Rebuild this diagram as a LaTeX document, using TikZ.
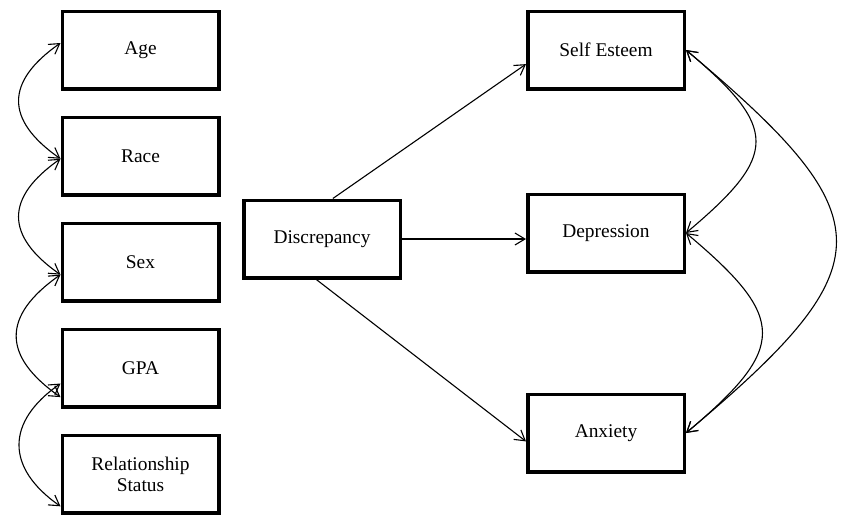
\documentclass[tikz,border=0pt]{standalone}
\usepackage{fontspec}
\setmainfont{Liberation Serif}
\usetikzlibrary{positioning,arrows.meta}

\tikzset{
  var/.style={draw, line width=1.75pt, minimum width=78.25pt, minimum height=38.75pt,
    align=center, inner sep=2pt, font=\fontsize{9.7}{10.5}\selectfont},
  reg/.style={-{Straight Barb[length=5pt,width=6pt]}, line width=0.55pt},
  cov/.style={{Straight Barb[length=5pt,width=6pt]}-{Straight Barb[length=5pt,width=6pt]}, line width=0.55pt}
}

\begin{document}
\begin{tikzpicture}[x=0.5pt, y=0.5pt, node distance=12.5pt]
\useasboundingbox (0,0) rectangle (843,516);

%Declare nodes.
\node[var] (age) at (140.5,466) {Age};
\node[var, below=of age] (race) {Race};
\node[var, below=of race] (sex) {Sex};
\node[var, below=of sex] (gpa) {GPA};
\node[var, below=of gpa] (rel) {Relationship\\Status};
\node[var] (disc) at (322,277) {Discrepancy};
\node[var] (self) at (606,466) {Self Esteem};
\node[var] (dep) at (606,283) {Depression};
\node[var] (anx) at (606,83) {Anxiety};

%Setup edges.
\draw[reg] (disc.75) -- (self.190);
\draw[reg] (disc.east) -- (disc.east -| dep.west);
\draw[reg] (disc.262) -- (anx.186);

%Covariances.
\draw[cov] (age.175) to[bend right=55, looseness=1.5] (race.182);
\draw[cov] (race.182) to[bend right=55, looseness=1.5] (sex.189);
\draw[cov] (sex.189) to[bend right=55, looseness=1.5] (gpa.200);
\draw[cov] (gpa.191) to[bend right=55, looseness=1.4] (rel.202);
\draw[cov] (self.east) to[bend left=50, looseness=1.7] (dep.east);
\draw[cov] (dep.east) to[bend left=50, looseness=1.7] (anx.east);
\draw[cov] (self.east) to[bend left=50, looseness=1.75] (anx.east);

\end{tikzpicture}
\end{document}
